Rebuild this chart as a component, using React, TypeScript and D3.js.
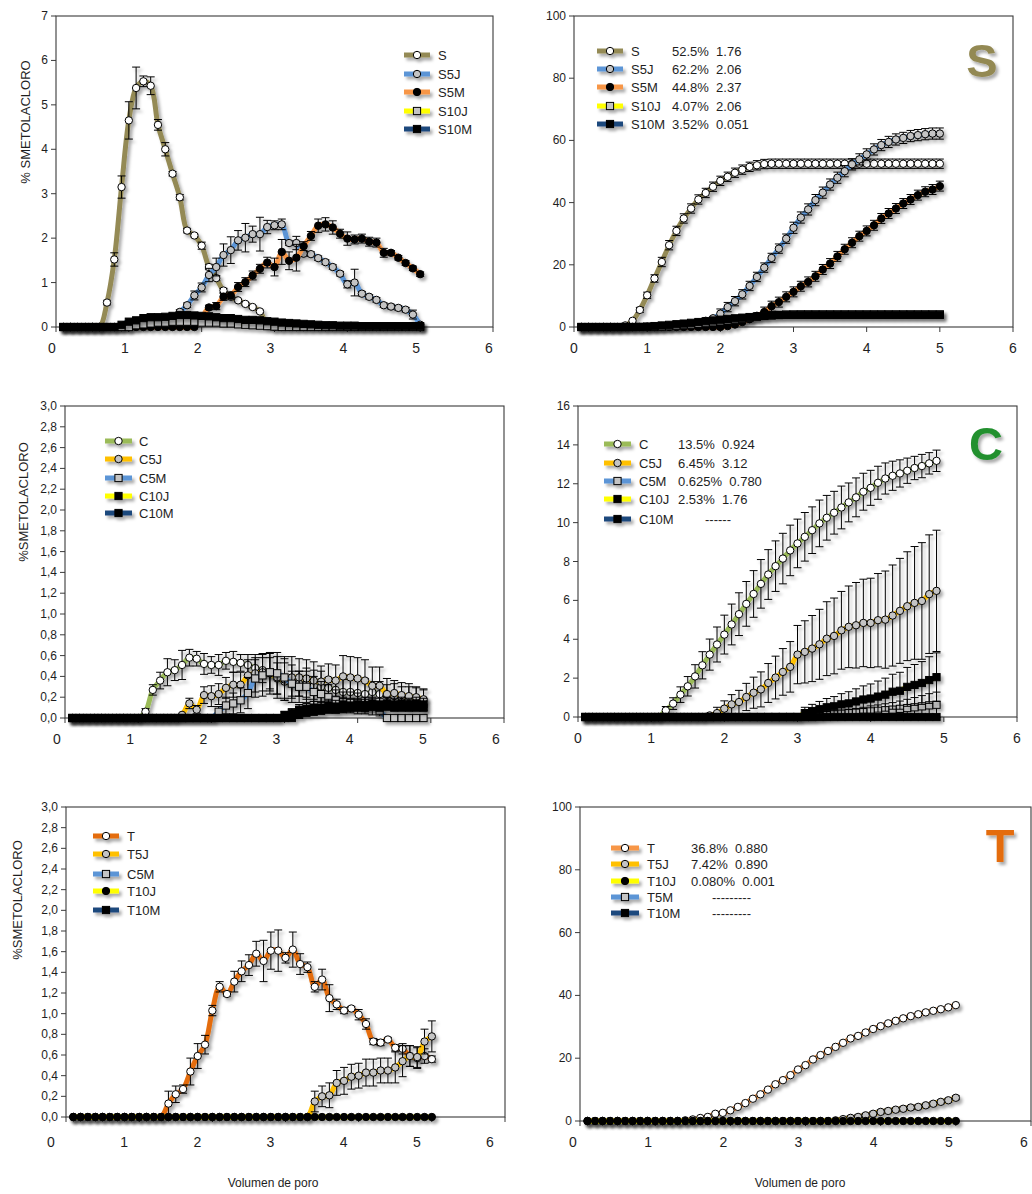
import React from 'react';
import * as d3 from 'd3';

const FONT = "'Liberation Sans', Arial, Helvetica, sans-serif";

// ---------- x positions (pore volume) ----------
const X50 = [0.1,0.2,0.3,0.4,0.5,0.6,0.7,0.8,0.9,1.0,1.1,1.2,1.3,1.4,1.5,1.6,1.7,1.8,1.9,2.0,2.1,2.2,2.3,2.4,2.5,2.6,2.7,2.8,2.9,3.0,3.1,3.2,3.3,3.4,3.5,3.6,3.7,3.8,3.9,4.0,4.1,4.2,4.3,4.4,4.5,4.6,4.7,4.8,4.9,5.0];
const X49 = [0.1,0.2,0.3,0.4,0.5,0.6,0.7,0.8,0.9,1.0,1.1,1.2,1.3,1.4,1.5,1.6,1.7,1.8,1.9,2.0,2.1,2.2,2.3,2.4,2.5,2.6,2.7,2.8,2.9,3.0,3.1,3.2,3.3,3.4,3.5,3.6,3.7,3.8,3.9,4.0,4.1,4.2,4.3,4.4,4.5,4.6,4.7,4.8,4.9];
const ZEROS_50 = [0,0,0,0,0,0,0,0,0,0, 0,0,0,0,0,0,0,0,0,0, 0,0,0,0,0,0,0,0,0,0, 0,0,0,0,0,0,0,0,0,0, 0,0,0,0,0,0,0,0,0,0];
const ZEROS_49 = [0,0,0,0,0,0,0,0,0,0, 0,0,0,0,0,0,0,0,0,0, 0,0,0,0,0,0,0,0,0,0, 0,0,0,0,0,0,0,0,0,0, 0,0,0,0,0,0,0,0,0];
const NO_DATA: number[] = [];

// ---------- tick labels ----------
const X_TICKS = [0,1,2,3,4,5,6];
const Y_TICKS_S_REL = [0,1,2,3,4,5,6,7];
const Y_TICKS_PCT = [0,20,40,60,80,100];
const Y_TICKS_FRAC = [0,0.2,0.4,0.6,0.8,1.0,1.2,1.4,1.6,1.8,2.0,2.2,2.4,2.6,2.8,3.0];
const Y_TICKS_C_CUM = [0,2,4,6,8,10,12,14,16];

// ---------- Panel S, relative (% per pore volume) ----------
const S_REL = [0,0,0,0,0,0, 0.55,1.52,3.15,4.65,5.38,5.53,5.43,4.55,4.0,3.45,2.92,2.17,2.06,1.83,1.35,1.1,0.82,0.68,0.6,0.52,0.45,0.35,0.05, 0,0,0,0,0,0,0,0,0,0, 0,0,0,0,0,0,0,0,0,0, 0];
const S_REL_ERR = [0,0,0,0,0,0, 0.05,0.15,0.25,0.42,0.47,0.12,0.2,0.12,0.15,0.05,0.06,0.05,0.03,0.08,0.06,0.05,0.05,0.03,0.03,0.03,0.03,0.03,0, 0,0,0,0,0,0,0,0,0,0, 0,0,0,0,0,0,0,0,0,0, 0];
const S5J_REL = [0,0,0,0,0,0,0,0,0,0, 0.05,0.07,0.08,0.1,0.12,0.2,0.34,0.49,0.71,0.89, 1.17,1.35,1.62,1.73,1.95,2.01,2.09,2.09,2.25,2.29, 2.31,1.89,1.89,1.65,1.64,1.55,1.46,1.35,1.2,0.96, 1.0,0.75,0.68,0.61,0.49,0.46,0.43,0.39,0.28,0.05];
const S5J_REL_ERR = [0,0,0,0,0,0,0,0,0,0, 0,0,0,0,0,0, 0.05,0.05,0.1,0.1,0.15,0.2,0.25,0.3,0.22,0.32, 0.18,0.38,0.15,0.1,0.12,0.05,0.15,0.05,0.05,0.05, 0.05,0.05,0.05,0.08,0.3,0.05,0.05,0.05,0.05,0.05, 0.05,0.05,0.1,0];
const S5M_REL = [0,0,0,0,0,0,0,0,0,0, 0,0,0,0,0,0,0,0,0, 0.2,0.44,0.47,0.68,0.71,0.9,1.01,1.16,1.31,1.45, 1.35,1.69,1.49,1.56,1.82,2.05,2.28,2.31,2.24,2.1, 1.99,1.97,1.99,1.92,1.9,1.67,1.67,1.56,1.44,1.32, 1.19];
const S5M_REL_ERR = [0,0,0,0,0,0,0,0,0,0, 0,0,0,0,0,0,0,0,0,0, 0.05,0.08,0.08,0.08,0.1,0.1,0.1,0.1,0.12,0.2, 0.28,0.2,0.3,0.1,0.1,0.15,0.15,0.15,0.1,0.15, 0.1,0.1,0.1,0.1,0.1,0.05,0.05,0.05,0.05,0.05];
const S10J_REL = [0,0,0,0,0,0,0,0,0,0, 0.04,0.06,0.08,0.1,0.1,0.12,0.12,0.12,0.12,0.1, 0.1,0.1,0.08,0.08,0.06,0.05,0.04,0.03,0.02,0.01, 0,0,0,0,0,0,0,0,0,0, 0,0,0,0,0,0,0,0,0,0];
const S10M_REL = [0,0,0,0,0,0,0,0, 0.05,0.12,0.15,0.2,0.22,0.22,0.23,0.25,0.27,0.27, 0.26,0.25,0.24,0.22,0.2,0.2,0.18,0.16,0.16,0.15, 0.13,0.12,0.1,0.09,0.08,0.07,0.06,0.05,0.04,0.04, 0.03,0.03,0.03,0.02,0.02,0.02,0.02,0.02,0.02,0.02, 0.02,0.02];

// ---------- Panel S, cumulative (%) ----------
const S_CUM = [0,0,0,0,0,0, 0.5,2.0,5.5,10.2,15.6,20.9,26.3,30.9,34.9,38.1, 41.0,43.1,45.1,47.0,48.3,49.6,50.6,51.5,52.0,52.4, 52.5,52.5,52.5,52.5,52.5,52.5,52.5,52.5,52.5,52.5, 52.5,52.5,52.5,52.5,52.5,52.5,52.5,52.5,52.5,52.5, 52.5,52.5,52.5,52.5];
const S_CUM_ERR = [0,0,0,0,0,0,0,0, 0.8,1.0,1.2, 1.5,1.5,1.5,1.5,1.5,1.5,1.5,1.5,1.5,1.5, 1.5,1.5,1.5,1.5,1.5,1.5,1.5,1.5,1.5,1.5, 1.5,1.5,1.5,1.5,1.5,1.5,1.5,1.5,1.5,1.5, 1.5,1.5,1.5,1.5,1.5,1.5,1.5,1.5,1.5];
const S5J_CUM = [0,0,0,0,0,0,0,0,0, 0.1,0.2,0.3,0.4,0.6,0.8,1.0,1.4,2.0,2.8, 4.3,6.4,8.3,10.5,13.2,16.1,19.1,22.2,25.2,28.4, 31.9,35.2,37.8,40.8,43.2,45.8,48.0,50.1,52.3,53.9, 55.5,57.1,58.5,59.5,60.3,60.8,61.4,61.7,62.0,62.2, 62.2];
const S5J_CUM_ERR = [0,0,0,0,0,0,0,0,0,0, 0,0,0,0,0,0,0,0,0, 1.5,1.5,1.5,1.5,1.5,1.5,1.5,1.5,1.5,1.5, 1.8,1.8,1.8,1.8,1.8,1.8,1.8,1.8,1.8,1.8, 1.8,1.8,1.8,1.8,1.8,1.8,1.8,1.8,1.8,1.8, 1.8];
const S5M_CUM = [0,0,0,0,0,0,0,0,0,0, 0,0,0,0,0,0,0,0,0,0, 0.3,0.8,1.6,2.5,3.6,4.8,6.7,8.0,9.7,11.3, 13.1,14.5,16.3,18.5,20.4,22.7,25.0,27.1,29.2,30.9, 32.7,34.9,36.5,38.1,39.7,41.0,42.4,43.5,44.2,45.3];
const S5M_CUM_ERR = [0,0,0,0,0,0,0,0,0,0, 0,0,0,0,0,0,0,0,0,0, 0,0,0,0,0, 1.6,1.6,1.6,1.6,1.6, 1.6,1.6,1.6,1.6,1.6,1.6,1.6,1.6,1.6,1.6, 1.6,1.6,1.6,1.6,1.6,1.6,1.6,1.6,1.6,1.6];
const S10J_CUM = [0,0,0,0,0,0,0,0,0,0, 0, 0.1,0.25,0.4,0.6,0.8,1.0,1.25,1.5,1.8, 2.1,2.4,2.7,3.0,3.3,3.55,3.75,3.9,4.0,4.05, 4.07,4.07,4.07,4.07,4.07,4.07,4.07,4.07,4.07,4.07, 4.07,4.07,4.07,4.07,4.07,4.07,4.07,4.07,4.07,4.07];
const S10M_CUM = [0,0,0,0,0,0,0,0, 0.05,0.15,0.3,0.5,0.7,0.9,1.1,1.35,1.6,1.85, 2.1,2.35,2.6,2.8,3.0,3.2,3.4,3.6,3.75,3.85, 3.9,3.9,3.9,3.9,3.9,3.9,3.9,3.9,3.9,3.9, 3.9,3.9,3.9,3.9,3.9,3.9,3.9,3.9,3.9,3.9, 3.9,3.9];

// ---------- Panel C, relative ----------
const C_REL = [0,0,0,0,0,0,0,0,0,0, 0.06,0.27,0.36,0.44,0.46,0.51,0.58,0.57,0.52,0.51, 0.51,0.55,0.54,0.53,0.51,0.48,0.46,0.43,0.38,0.35, 0.33,0.33,0.33,0.31,0.3,0.29,0.27,0.25,0.25,0.24, 0.23,0.25,0.23,0.22,0.21,0.2,0.2,0.19,0.17];
const C_REL_ERR = [0,0,0,0,0,0,0,0,0,0, 0.03,0.05,0.08,0.13,0.1,0.14,0.08,0.07,0.1,0.08, 0.1,0.08,0.1,0.08,0.1,0.1,0.12,0.15,0.15,0.18, 0.12,0.12,0.15,0.15,0.15,0.1,0.1,0.12,0.12,0.15, 0.15,0.1,0.12,0.1,0.12,0.1,0.1,0.1,0.1];
const C5J_REL = [0,0,0,0,0,0,0,0,0,0, 0,0,0,0,0, 0.03,0.14,0.08,0.22,0.21,0.23,0.29,0.32,0.32,0.41, 0.43,0.44,0.43,0.39,0.37,0.39,0.39,0.38,0.36,0.35, 0.37,0.36,0.4,0.39,0.38,0.36,0.31,0.31,0.23,0.24, 0.22,0.21,0.2,0.18];
const C5J_REL_ERR = [0,0,0,0,0,0,0,0,0,0, 0,0,0,0,0,0, 0.05,0.04,0.08,0.1,0.1,0.1,0.12,0.12,0.15,0.18, 0.18,0.2,0.2,0.2,0.2,0.18,0.18,0.18,0.15,0.15, 0.15,0.2,0.2,0.2,0.2,0.18,0.18,0.15,0.12,0.12, 0.12,0.1,0.1];
const C5M_REL = [0,0,0,0,0,0,0,0,0,0, 0,0,0,0,0,0,0,0,0,0, 0.06,0.12,0.14,0.17,0.24,0.38,0.41,0.44,0.43,0.39, 0.33,0.3,0.3,0.25,0.23,0.2,0.17,0.15,0.15,0.14, 0.12,0.11,0.07, 0,0,0,0,0,0];
const C5M_REL_ERR = [0,0,0,0,0,0,0,0,0,0, 0,0,0,0,0,0,0,0,0,0, 0.05,0.08,0.1,0.12,0.15,0.18,0.2,0.18,0.2,0.2, 0.18,0.15,0.15,0.15,0.12,0.12,0.1,0.1,0.1,0.1, 0.08,0.08,0.05, 0,0,0,0,0,0];
const C10J_REL = [0,0,0,0,0,0,0,0,0,0, 0,0,0,0,0,0,0,0,0,0, 0,0,0,0,0,0,0,0,0, 0.03,0.05,0.08,0.09,0.1,0.1,0.12,0.11,0.13,0.12, 0.13,0.12,0.14,0.13,0.14,0.13,0.14,0.13,0.14,0.13];
const C10J_REL_ERR = [0,0,0,0,0,0,0,0,0,0, 0,0,0,0,0,0,0,0,0,0, 0,0,0,0,0,0,0,0,0, 0.03,0.04,0.05,0.05,0.06,0.06,0.06,0.06,0.06,0.06, 0.06,0.06,0.06,0.06,0.06,0.06,0.06,0.06,0.06,0.06];
const C10M_REL = [0,0,0,0,0,0,0,0,0,0, 0,0,0,0,0,0,0,0,0,0, 0,0,0,0,0,0,0,0,0,0, 0, 0.03,0.05,0.06,0.07,0.08,0.08,0.09,0.1,0.1, 0.1,0.11,0.1,0.11,0.1,0.1,0.1,0.1,0.1];

// ---------- Panel C, cumulative ----------
const C_CUM = [0,0,0,0,0,0,0,0,0,0, 0, 0.34,0.69,1.15,1.58,2.09,2.66,3.21,3.73, 4.24,4.76,5.29,5.82,6.33,6.85,7.33,7.76,8.15,8.57, 8.93,9.27,9.61,9.96,10.25,10.51,10.78,11.04,11.3,11.59, 11.79,12.05,12.27,12.41,12.53,12.67,12.81,12.91,13.05,13.18];
const C_CUM_ERR = [0,0,0,0,0,0,0,0,0,0, 0, 0.2,0.3,0.4,0.5,0.6,0.7,0.8,0.9, 1.0,1.05,1.1,1.15,1.2,1.25,1.28,1.3,1.3,1.3, 1.25,1.25,1.2,1.2,1.15,1.1,1.1,1.0,1.0,0.95, 0.9,0.85,0.8,0.75,0.7,0.65,0.6,0.6,0.55,0.55];
const C5J_CUM = [0,0,0,0,0,0,0,0,0,0, 0,0,0,0,0,0,0, 0.08,0.2,0.43,0.65,0.77,1.03,1.25,1.42,1.75,2.03, 2.32,2.58,3.21,3.35,3.52,3.74,4.03,4.17,4.46,4.64, 4.72,4.84,4.84,4.98,5.01,5.22,5.46,5.7,5.87,5.97, 6.32,6.49];
const C5J_CUM_ERR = [0,0,0,0,0,0,0,0,0,0, 0,0,0,0,0,0,0,0, 0.3,0.4,0.5,0.6,0.7,0.8,0.9,1.0,1.1,1.2, 1.3,1.5,1.6,1.7,1.8,1.9,1.95,2.0,2.1,2.2, 2.25,2.3,2.4,2.5,2.6,2.7,2.8,2.9,3.0,3.05, 3.12];
const C5M_CUM = [0,0,0,0,0,0,0,0,0,0, 0,0,0,0,0,0,0,0,0,0, 0,0,0,0,0,0,0,0,0,0, 0,0, 0.05,0.1,0.14,0.17,0.2,0.22,0.25,0.29, 0.32,0.35,0.38,0.42,0.46,0.5,0.55,0.6,0.63];
const C5M_CUM_ERR = [0,0,0,0,0,0,0,0,0,0, 0,0,0,0,0,0,0,0,0,0, 0,0,0,0,0,0,0,0,0,0, 0,0, 0.1,0.12,0.15,0.18,0.2,0.22,0.25,0.28, 0.3,0.33,0.36,0.4,0.45,0.5,0.55,0.6,0.65];
const C10J_CUM = [0,0,0,0,0,0,0,0,0,0, 0,0,0,0,0,0,0,0,0,0, 0,0,0,0,0,0,0,0,0,0, 0.2,0.3,0.4,0.5,0.55,0.65,0.7,0.8,0.9,0.95, 1.05,1.15,1.3,1.35,1.55,1.65,1.75,1.9,2.05];
const C10J_CUM_ERR = [0,0,0,0,0,0,0,0,0,0, 0,0,0,0,0,0,0,0,0,0, 0,0,0,0,0,0,0,0,0,0, 0.3,0.35,0.4,0.45,0.5,0.55,0.6,0.65,0.7,0.75, 0.8,0.85,0.9,0.95,1.0,1.05,1.1,1.2,1.25];

// ---------- Panel T, relative ----------
const T_REL = [0,0,0,0,0,0,0,0,0,0, 0,0,0, 0.13,0.22,0.27,0.44,0.59,0.7,1.03, 1.26,1.19,1.31,1.41,1.47,1.58,1.51,1.61,1.61,1.54, 1.62,1.48,1.45,1.26,1.33,1.15,1.09,1.03,1.05,0.99, 0.9,0.73,0.72,0.75,0.67,0.66,0.59,0.57,0.59,0.56];
const T_REL_ERR = [0,0,0,0,0,0,0,0,0,0, 0,0,0, 0.12,0.08,0.04,0.13,0.12,0.09,0.05,0.05,0.02,0.1, 0.1,0.1,0.12,0.2,0.18,0.2,0.05,0.17,0.1,0.05, 0.05,0.1,0.13,0.05,0.03,0.02,0.05,0.05,0.03,0.03, 0.02,0.03,0.05,0.1,0.1,0.07,0.03];
const T5J_REL = [0,0,0,0,0,0,0,0,0,0, 0,0,0,0,0,0,0,0,0,0, 0,0,0,0,0,0,0,0,0,0, 0,0,0, 0.15,0.2,0.21,0.33,0.35,0.39,0.4, 0.43,0.43,0.45,0.45,0.48,0.54,0.59,0.58,0.73,0.78];
const T5J_REL_ERR = [0,0,0,0,0,0,0,0,0,0, 0,0,0,0,0,0,0,0,0,0, 0,0,0,0,0,0,0,0,0,0, 0,0,0, 0.1,0.1,0.12,0.12,0.13,0.12,0.12, 0.13,0.13,0.12,0.12,0.15,0.15,0.1,0.1,0.12,0.15];

// ---------- Panel T, cumulative ----------
const T_CUM = [0,0,0,0,0,0,0,0,0,0, 0,0,0, 0.2,0.5, 0.96,1.3,2.3,2.6,3.4, 4.5,5.7,7.1,8.5,10,11.7,13,14.6,16.4,17.8, 19.6,21,22.3,23.6,24.9,26.3,27.1,28.2,29.3,30.2, 31.1,31.9,32.7,33.4,34,34.6,35.1,35.6,36.2,36.9];
const T5J_CUM = [0,0,0,0,0,0,0,0,0,0, 0,0,0,0,0,0,0,0,0,0, 0,0,0,0,0,0,0,0,0,0, 0,0,0, 0.2,0.6,1.0,1.3,1.8,2.3,2.9, 3.2,3.6,3.9,4.3,4.5,5.0,5.5,6.1,6.6,7.4];
const T5J_CUM_ERR = [0,0,0,0,0,0,0,0,0,0, 0,0,0,0,0,0,0,0,0,0, 0,0,0,0,0,0,0,0,0,0, 0,0,0,0,0, 0.6,0.6,0.6,0.6,0.6, 0.6,0.6,0.6,0.6,0.6,0.6,0.6,0.6,0.6,0.6];

// ---------- legend texts ----------
const LEGEND_S_VALUES = ['52.5%  1.76', '62.2%  2.06', '44.8%  2.37', '4.07%  2.06', '3.52%  0.051'];
const LEGEND_C_VALUES = ['13.5%  0.924', '6.45%  3.12', '0.625%  0.780', '2.53%  1.76', '------'];
const LEGEND_T_VALUES = ['36.8%  0.880', '7.42%  0.890', '0.080%  0.001', '---------', '---------'];

// ---------- styles ----------
const OLIVE = '#948A54';
const BLUE = '#5B95D6';
const ORANGE = '#F79646';
const YELLOW = '#FFFF00';
const NAVY = '#1F497D';
const GREEN = '#9BBB59';
const GOLD = '#FFC000';
const DARK_ORANGE = '#E46C0A';

type MarkerType = 'circleWhite' | 'circleGray' | 'circleBlack' | 'squareGray' | 'squareBlack';
interface Series { name: string; y: number[]; err?: number[]; color: string; marker: MarkerType; value?: string; }
interface Panel {
  id: string; x0: number; x1: number; yTop: number; yBot: number; yMax: number;
  yTicks: number[]; comma: boolean; xs: number[]; series: Series[]; order: number[];
  legend: { lx1: number; lx2: number; tx: number; vx?: number; dash?: number; rows: number[] };
  yTitle?: { text: string; x: number; y: number };
  big?: { ch: string; x: number; y: number; color: string };
  xLabelDy: number;
  xLabelDx: number;
}

const PANELS: Panel[] = [
  {
    id: 'A', x0: 56, x1: 493, yTop: 16, yBot: 327, yMax: 7, yTicks: Y_TICKS_S_REL, comma: false, xs: X50,
    series: [
      { name: 'S', y: S_REL, err: S_REL_ERR, color: OLIVE, marker: 'circleWhite' },
      { name: 'S5J', y: S5J_REL, err: S5J_REL_ERR, color: BLUE, marker: 'circleGray' },
      { name: 'S5M', y: S5M_REL, err: S5M_REL_ERR, color: ORANGE, marker: 'circleBlack' },
      { name: 'S10J', y: S10J_REL, color: YELLOW, marker: 'squareGray' },
      { name: 'S10M', y: S10M_REL, color: NAVY, marker: 'squareBlack' },
    ],
    order: [0, 1, 2, 3, 4],
    legend: { lx1: 404, lx2: 430, tx: 438, rows: [55, 74, 92, 111, 129] },
    yTitle: { text: '% SMETOLACLORO', x: 25, y: 122 },
    xLabelDy: 26, xLabelDx: -4,
  },
  {
    id: 'B', x0: 574, x1: 1013, yTop: 16, yBot: 327, yMax: 100, yTicks: Y_TICKS_PCT, comma: false, xs: X50,
    series: [
      { name: 'S', y: S_CUM, err: S_CUM_ERR, color: OLIVE, marker: 'circleWhite', value: LEGEND_S_VALUES[0] },
      { name: 'S5J', y: S5J_CUM, err: S5J_CUM_ERR, color: BLUE, marker: 'circleGray', value: LEGEND_S_VALUES[1] },
      { name: 'S5M', y: S5M_CUM, err: S5M_CUM_ERR, color: ORANGE, marker: 'circleBlack', value: LEGEND_S_VALUES[2] },
      { name: 'S10J', y: S10J_CUM, color: YELLOW, marker: 'squareGray', value: LEGEND_S_VALUES[3] },
      { name: 'S10M', y: S10M_CUM, color: NAVY, marker: 'squareBlack', value: LEGEND_S_VALUES[4] },
    ],
    order: [0, 1, 2, 3, 4],
    legend: { lx1: 597, lx2: 623, tx: 631, vx: 672, dash: 0, rows: [51, 69, 87, 106, 124] },
    big: { ch: 'S', x: 982, y: 77, color: '#938953' },
    xLabelDy: 26, xLabelDx: 0,
  },
  {
    id: 'C', x0: 65, x1: 504, yTop: 406, yBot: 718, yMax: 3, yTicks: Y_TICKS_FRAC, comma: true, xs: X49,
    series: [
      { name: 'C', y: C_REL, err: C_REL_ERR, color: GREEN, marker: 'circleWhite' },
      { name: 'C5J', y: C5J_REL, err: C5J_REL_ERR, color: GOLD, marker: 'circleGray' },
      { name: 'C5M', y: C5M_REL, err: C5M_REL_ERR, color: BLUE, marker: 'squareGray' },
      { name: 'C10J', y: C10J_REL, err: C10J_REL_ERR, color: YELLOW, marker: 'squareBlack' },
      { name: 'C10M', y: C10M_REL, color: NAVY, marker: 'squareBlack' },
    ],
    order: [0, 1, 2, 3, 4],
    legend: { lx1: 105, lx2: 132, tx: 139, rows: [441, 459, 478, 496, 513] },
    yTitle: { text: '%SMETOLACLORO', x: 23, y: 502 },
    xLabelDy: 26, xLabelDx: -8,
  },
  {
    id: 'D', x0: 578, x1: 1017, yTop: 406, yBot: 717, yMax: 16, yTicks: Y_TICKS_C_CUM, comma: false, xs: X49,
    series: [
      { name: 'C', y: C_CUM, err: C_CUM_ERR, color: GREEN, marker: 'circleWhite', value: LEGEND_C_VALUES[0] },
      { name: 'C5J', y: C5J_CUM, err: C5J_CUM_ERR, color: GOLD, marker: 'circleGray', value: LEGEND_C_VALUES[1] },
      { name: 'C5M', y: C5M_CUM, err: C5M_CUM_ERR, color: BLUE, marker: 'squareGray', value: LEGEND_C_VALUES[2] },
      { name: 'C10J', y: C10J_CUM, err: C10J_CUM_ERR, color: YELLOW, marker: 'squareBlack', value: LEGEND_C_VALUES[3] },
      { name: 'C10M', y: ZEROS_49, color: NAVY, marker: 'squareBlack', value: LEGEND_C_VALUES[4] },
    ],
    order: [0, 1, 2, 3, 4],
    legend: { lx1: 604, lx2: 631, tx: 639, vx: 678, dash: 27, rows: [444, 463, 481, 499, 519] },
    big: { ch: 'C', x: 986, y: 460, color: '#23902F' },
    xLabelDy: 26, xLabelDx: 0,
  },
  {
    id: 'E', x0: 66, x1: 505, yTop: 807, yBot: 1117, yMax: 3, yTicks: Y_TICKS_FRAC, comma: true, xs: X50,
    series: [
      { name: 'T', y: T_REL, err: T_REL_ERR, color: DARK_ORANGE, marker: 'circleWhite' },
      { name: 'T5J', y: T5J_REL, err: T5J_REL_ERR, color: GOLD, marker: 'circleGray' },
      { name: 'C5M', y: NO_DATA, color: BLUE, marker: 'squareGray' },
      { name: 'T10J', y: ZEROS_50, color: YELLOW, marker: 'circleBlack' },
      { name: 'T10M', y: NO_DATA, color: NAVY, marker: 'squareBlack' },
    ],
    order: [2, 4, 0, 1, 3],
    legend: { lx1: 93, lx2: 119, tx: 127, rows: [836, 854, 874, 891, 910] },
    yTitle: { text: '%SMETOLACLORO', x: 17, y: 900 },
    xLabelDy: 30, xLabelDx: -15,
  },
  {
    id: 'F', x0: 580, x1: 1031, yTop: 807, yBot: 1121, yMax: 100, yTicks: Y_TICKS_PCT, comma: false, xs: X50,
    series: [
      { name: 'T', y: T_CUM, color: ORANGE, marker: 'circleWhite', value: LEGEND_T_VALUES[0] },
      { name: 'T5J', y: T5J_CUM, err: T5J_CUM_ERR, color: GOLD, marker: 'circleGray', value: LEGEND_T_VALUES[1] },
      { name: 'T10J', y: ZEROS_50, color: YELLOW, marker: 'circleBlack', value: LEGEND_T_VALUES[2] },
      { name: 'T5M', y: NO_DATA, color: BLUE, marker: 'squareGray', value: LEGEND_T_VALUES[3] },
      { name: 'T10M', y: NO_DATA, color: NAVY, marker: 'squareBlack', value: LEGEND_T_VALUES[4] },
    ],
    order: [3, 4, 0, 1, 2],
    legend: { lx1: 611, lx2: 639, tx: 647, vx: 691, dash: 21, rows: [848, 864, 881, 897, 913] },
    big: { ch: 'T', x: 1000, y: 862, color: DARK_ORANGE },
    xLabelDy: 26, xLabelDx: -7,
  },
];

function Marker({ type, cx, cy }: { type: MarkerType; cx: number; cy: number }) {
  const r = 3.7;
  const s = 7.2;
  switch (type) {
    case 'circleWhite':
      return <circle cx={cx} cy={cy} r={r} fill="#ffffff" stroke="#000" strokeWidth={1} />;
    case 'circleGray':
      return <circle cx={cx} cy={cy} r={r} fill="#c4c4c4" stroke="#000" strokeWidth={1} />;
    case 'circleBlack':
      return <circle cx={cx} cy={cy} r={r} fill="#000" stroke="#000" strokeWidth={1} />;
    case 'squareGray':
      return <rect x={cx - s / 2} y={cy - s / 2} width={s} height={s} fill="#c4c4c4" stroke="#000" strokeWidth={1} />;
    case 'squareBlack':
    default:
      return <rect x={cx - s / 2} y={cy - s / 2} width={s} height={s} fill="#000" stroke="#000" strokeWidth={1} />;
  }
}

function SeriesView({ s, xs, x, y }: { s: Series; xs: number[]; x: d3.ScaleLinear<number, number>; y: d3.ScaleLinear<number, number> }) {
  if (!s.y.length) return null;
  const pts: [number, number][] = xs.map((xv, i) => [x(xv), y(s.y[i])]);
  const path = d3.line().curve(d3.curveCatmullRom.alpha(0.5))(pts) || '';
  const cap = 4;
  return (
    <g filter="url(#sh)">
      <path d={path} fill="none" stroke={s.color} strokeWidth={5} strokeLinejoin="round" strokeLinecap="round" />
      {s.err && s.err.map((e, i) => {
        if (!e) return null;
        const cx = x(xs[i]);
        const yHi = y(s.y[i] + e);
        const yLo = y(s.y[i] - e);
        return (
          <g key={'e' + i} stroke="#000" strokeWidth={1}>
            <line x1={cx} x2={cx} y1={yHi} y2={yLo} />
            <line x1={cx - cap} x2={cx + cap} y1={yHi} y2={yHi} />
            <line x1={cx - cap} x2={cx + cap} y1={yLo} y2={yLo} />
          </g>
        );
      })}
      {xs.map((xv, i) => <Marker key={'m' + i} type={s.marker} cx={x(xv)} cy={y(s.y[i])} />)}
    </g>
  );
}

function PanelView({ p }: { p: Panel }) {
  const x = d3.scaleLinear().domain([0, 6]).range([p.x0, p.x1]);
  const y = d3.scaleLinear().domain([0, p.yMax]).range([p.yBot, p.yTop]);
  const fmt = p.comma ? (v: number) => d3.format('.1f')(v).replace('.', ',') : d3.format('d');
  const axisColor = '#3a3a3a';
  const textColor = '#1e1e1e';
  return (
    <g>
      <rect x={p.x0} y={p.yTop} width={p.x1 - p.x0} height={p.yBot - p.yTop} fill="none" stroke={axisColor} strokeWidth={1.1} />
      {p.yTicks.map((t) => (
        <g key={'y' + t}>
          <line x1={p.x0 - 5} x2={p.x0} y1={y(t)} y2={y(t)} stroke={axisColor} strokeWidth={1} />
          <text x={p.x0 - 8} y={y(t)} textAnchor="end" dominantBaseline="central" fontSize={12} fill={textColor}>{fmt(t)}</text>
        </g>
      ))}
      {X_TICKS.map((t) => (
        <g key={'x' + t}>
          <line x1={x(t)} x2={x(t)} y1={p.yBot} y2={p.yBot + 5} stroke={axisColor} strokeWidth={1} />
          <text x={x(t) + p.xLabelDx} y={p.yBot + p.xLabelDy} textAnchor="middle" fontSize={14} fill={textColor}>{t}</text>
        </g>
      ))}
      {p.order.map((idx) => (
        <SeriesView key={p.id + idx} s={p.series[idx]} xs={p.xs} x={x} y={y} />
      ))}
      {p.series.map((s, i) => {
        const ry = p.legend.rows[i];
        const mx = (p.legend.lx1 + p.legend.lx2) / 2;
        const v = s.value;
        return (
          <g key={'lg' + i}>
            <g filter="url(#sh)">
              <line x1={p.legend.lx1} x2={p.legend.lx2} y1={ry} y2={ry} stroke={s.color} strokeWidth={5} />
              <Marker type={s.marker} cx={mx} cy={ry} />
            </g>
            <text x={p.legend.tx} y={ry} dominantBaseline="central" fontSize={13} fill={textColor}>{s.name}</text>
            {v && p.legend.vx !== undefined && (
              <text x={p.legend.vx + (v.startsWith('-') ? (p.legend.dash || 0) : 0)} y={ry} dominantBaseline="central" fontSize={13} fill={textColor} style={{ whiteSpace: 'pre' }}>{v}</text>
            )}
          </g>
        );
      })}
      {p.yTitle && (
        <text transform={`translate(${p.yTitle.x},${p.yTitle.y}) rotate(-90)`} textAnchor="middle" dominantBaseline="central" fontSize={13} fill={textColor}>{p.yTitle.text}</text>
      )}
      {p.big && (
        <text x={p.big.x} y={p.big.y} textAnchor="middle" fontSize={47} fontWeight="bold" fill={p.big.color} filter="url(#sh)">{p.big.ch}</text>
      )}
    </g>
  );
}

export default function App() {
  React.useEffect(() => {
    document.body.style.margin = '0';
  }, []);
  return (
    <svg width={1032} height={1194} viewBox="0 0 1032 1194" style={{ position: 'absolute', left: 0, top: 0, background: '#fff' }} fontFamily={FONT}>
      <defs>
        <filter id="sh" filterUnits="userSpaceOnUse" x={0} y={0} width={1032} height={1194}>
          <feDropShadow dx={2.5} dy={3} stdDeviation={1.6} floodColor="#000" floodOpacity={0.33} />
        </filter>
      </defs>
      <rect x={0} y={0} width={1032} height={1194} fill="#fff" />
      {PANELS.map((p) => <PanelView key={p.id} p={p} />)}
      <text x={273} y={1187} textAnchor="middle" fontSize={12} fill="#1e1e1e">Volumen de poro</text>
      <text x={800} y={1187} textAnchor="middle" fontSize={12} fill="#1e1e1e">Volumen de poro</text>
    </svg>
  );
}
